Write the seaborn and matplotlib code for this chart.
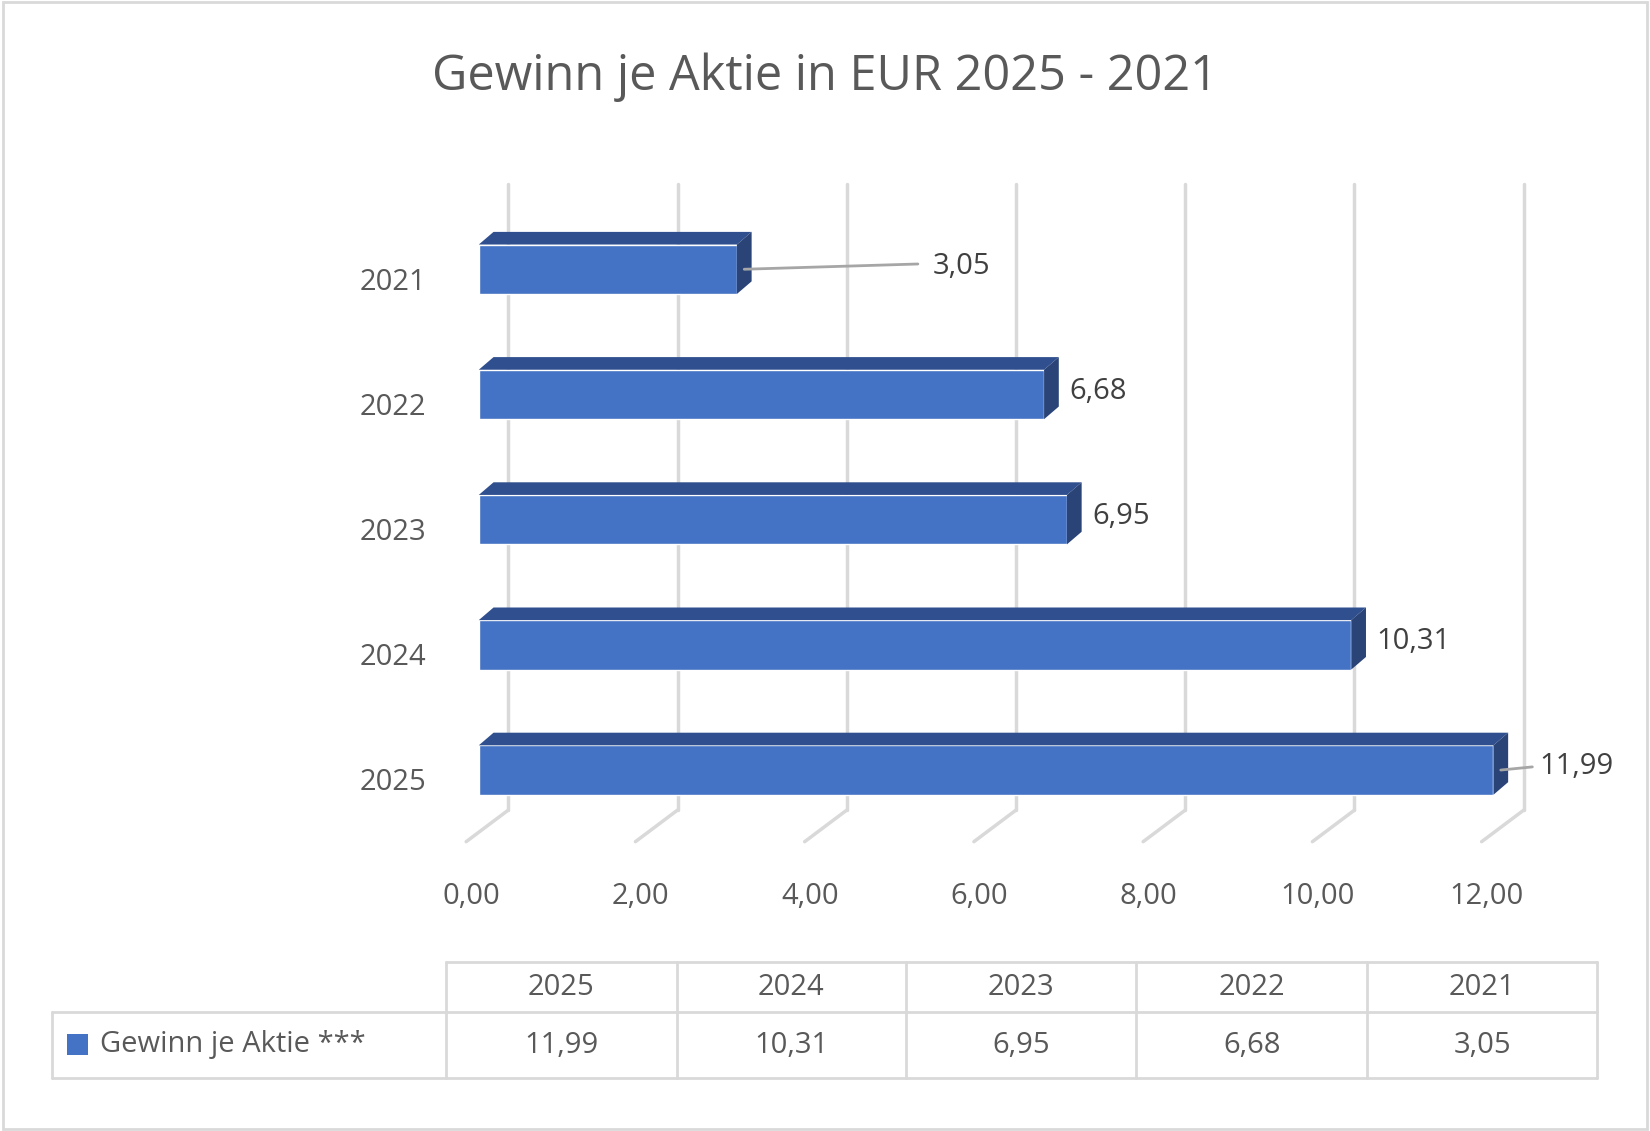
import matplotlib
matplotlib.use("Agg")
import matplotlib.pyplot as plt
import seaborn as sns
import pandas as pd
from matplotlib.patches import Polygon, Rectangle
from matplotlib.lines import Line2D

years = ["2021", "2022", "2023", "2024", "2025"]
values = [3.05, 6.68, 6.95, 10.31, 11.99]
labels = ["3,05", "6,68", "6,95", "10,31", "11,99"]
xticks = [0, 2, 4, 6, 8, 10, 12]
xticklabels = ["0,00", "2,00", "4,00", "6,00", "8,00", "10,00", "12,00"]
table_years = ["2025", "2024", "2023", "2022", "2021"]
table_vals = ["11,99", "10,31", "6,95", "6,68", "3,05"]
series_name = "Gewinn je Aktie ***"
title = "Gewinn je Aktie in EUR 2025 - 2021"

sns.set_theme(style="white")
plt.rcParams['font.family'] = ['Open Sans', 'DejaVu Sans']
TXT = "#595959"
BLUE = "#4472C4"
TOP = "#2F4F8F"
SIDE = "#2A4478"
GRID = "#D9D9D9"

W, H = 1568, 1075
S = 1650 / W
fig = plt.figure(figsize=(16.5, 11.31), dpi=100)
fx = lambda px: px / W
fy = lambda py: 1 - py / H

ax = fig.add_axes([fx(455), fy(770), fx(1420) - fx(455), (770 - 175) / H])
ax.set_zorder(2)
df = pd.DataFrame({"year": years, "val": values})
sns.barplot(data=df, x="val", y="year", order=years, orient="h", color=BLUE,
            width=0.395, saturation=1, ax=ax, zorder=3)
ax.set_xlim(0, 12)
ax.set_ylim(4.32, -0.68)
ax.axis("off")
fig.patch.set_facecolor("white")

# 3D effect in display pixels
dx, dy = 14 * S, 12 * S
gx, gy = 28 * S, 0
T = ax.transData
for p in ax.patches:
    x0, y0 = p.get_x(), p.get_y()
    x1, y1 = x0 + p.get_width(), y0 + p.get_height()
    (X0, Ytop) = T.transform((x0, y0))
    (X1, Ybot) = T.transform((x1, y1))
    top = Polygon([(X0, Ytop), (X1, Ytop), (X1 + dx, Ytop + dy), (X0 + dx, Ytop + dy)],
                  closed=True, transform=None, facecolor=TOP, edgecolor="none", zorder=4)
    side = Polygon([(X1, Ytop), (X1 + dx, Ytop + dy), (X1 + dx, Ybot + dy), (X1, Ybot)],
                   closed=True, transform=None, facecolor=SIDE, edgecolor="none", zorder=4)
    fig.patches.extend([top, side])

# grid on back wall and floor
Ytop_ax = ax.transAxes.transform((0, 1))[1]
Ybot_ax = ax.transAxes.transform((0, 0))[1]
for t in xticks:
    X = T.transform((t, 0))[0]
    fig.lines.append(Line2D([X + gx, X + gx], [Ybot_ax, Ytop_ax], transform=None,
                            color=GRID, lw=2.5, zorder=1))
    fig.lines.append(Line2D([X + gx, X - 12 * S], [Ybot_ax, Ybot_ax - 30 * S], transform=None,
                            color=GRID, lw=2.5, zorder=1))
    fig.text(fx(1) * 0 + (X - 7 * S) / (W * S), fy(852), xticklabels[xticks.index(t)],
             ha="center", va="center", fontsize=21, color=TXT)

# y labels
for i, y in enumerate(years):
    Y = T.transform((0, i))[1]
    fig.text(fx(405), (Y - 12 * S) / (H * S), y, ha="right", va="center", fontsize=21, color=TXT)

# value labels
for i, (v, lab) in enumerate(zip(values, labels)):
    X, Y = T.transform((v, i))
    Xs = X + dx * 0.5
    if i == 0:
        fig.lines.append(Line2D([Xs, Xs + 165 * S], [Y, Y + 5 * S], transform=None,
                                color="#A6A6A6", lw=2, zorder=5))
        fig.text((Xs + 179 * S) / (W * S), (Y + 3 * S) / (H * S), lab, ha="left", va="center",
                 fontsize=21, color="#404040")
    elif i == 4:
        fig.lines.append(Line2D([Xs, Xs + 30 * S], [Y, Y + 3 * S], transform=None,
                                color="#A6A6A6", lw=2, zorder=5))
        fig.text((Xs + 37 * S) / (W * S), (Y + 3 * S) / (H * S), lab, ha="left", va="center",
                 fontsize=21, color="#404040")
    else:
        fig.text((X + dx + 10 * S) / (W * S), (Y + 3 * S) / (H * S), lab, ha="left", va="center",
                 fontsize=21, color="#404040")

fig.text(0.5, fy(73), title, ha="center", va="center", fontsize=35, color=TXT)

# data table
cols = [424, 643, 861, 1080, 1299, 1518]
lw = 2
def hl(x0, x1, y):
    fig.lines.append(Line2D([fx(x0), fx(x1)], [fy(y), fy(y)], transform=fig.transFigure, color=GRID, lw=lw))
def vl(x, y0, y1):
    fig.lines.append(Line2D([fx(x), fx(x)], [fy(y0), fy(y1)], transform=fig.transFigure, color=GRID, lw=lw))
hl(424, 1518, 914)
hl(49, 1518, 962)
hl(49, 1518, 1025)
vl(49, 962, 1025)
for c in cols:
    vl(c, 914, 1025)
for j in range(5):
    cx = (cols[j] + cols[j + 1]) / 2
    fig.text(fx(cx), fy(939), table_years[j], ha="center", va="center", fontsize=21, color=TXT)
    fig.text(fx(cx), fy(994), table_vals[j], ha="center", va="center", fontsize=21, color=TXT)
fig.patches.append(Rectangle((fx(64), fy(1003)), fx(20), 20 / H, transform=fig.transFigure,
                             facecolor=BLUE, edgecolor="none"))
fig.text(fx(95), fy(993), series_name, ha="left", va="center", fontsize=21, color=TXT)

# outer border
fig.patches.append(Rectangle((0.002, 0.002), 0.996, 0.996, transform=fig.transFigure,
                             facecolor="none", edgecolor=GRID, lw=2))

fig.savefig("out.png", dpi=100)
